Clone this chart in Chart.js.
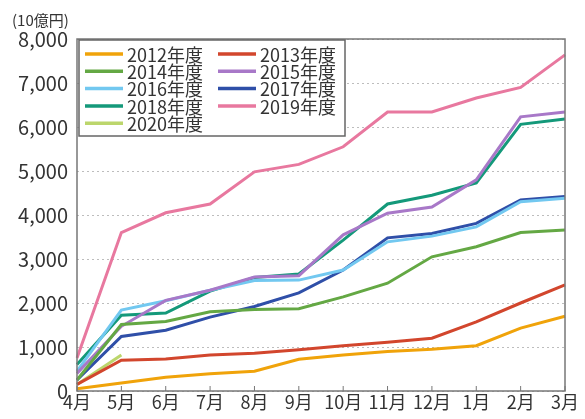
<!DOCTYPE html>
<html>
<head>
<meta charset="utf-8">
<script src="https://cdn.jsdelivr.net/npm/chart.js@4"></script>
<style>
  html, body { margin: 0; padding: 0; background: #fff; }
  #wrap { width: 585px; height: 419px; position: relative; }
</style>
</head>
<body>
<div id="wrap"><canvas id="chart"></canvas></div>
<script>
const months = ['4月', '5月', '6月', '7月', '8月', '9月', '10月', '11月', '12月', '1月', '2月', '3月'];
const yTicks = [0, 1000, 2000, 3000, 4000, 5000, 6000, 7000, 8000];
const unitLabel = '(10億円)';

const fy2012 = [50, 180, 310, 390, 450, 720, 820, 900, 950, 1030, 1430, 1700];
const fy2013 = [150, 700, 730, 820, 860, 940, 1030, 1110, 1200, 1570, 2000, 2410];
const fy2014 = [250, 1510, 1580, 1800, 1850, 1870, 2140, 2450, 3050, 3280, 3600, 3660];
const fy2015 = [400, 1470, 2060, 2290, 2590, 2620, 3550, 4040, 4180, 4800, 6230, 6340];
const fy2016 = [450, 1840, 2050, 2290, 2510, 2520, 2750, 3390, 3520, 3730, 4300, 4380];
const fy2017 = [250, 1240, 1380, 1680, 1920, 2230, 2750, 3480, 3580, 3810, 4340, 4420];
const fy2018 = [600, 1720, 1770, 2270, 2580, 2660, 3430, 4250, 4450, 4730, 6060, 6180];
const fy2019 = [750, 3600, 4050, 4250, 4980, 5150, 5550, 6340, 6340, 6660, 6900, 7640];
const fy2020 = [150, 820, null, null, null, null, null, null, null, null, null, null];

const seriesNames = ['2012年度', '2013年度', '2014年度', '2015年度', '2016年度', '2017年度', '2018年度', '2019年度', '2020年度'];
const seriesData = [fy2012, fy2013, fy2014, fy2015, fy2016, fy2017, fy2018, fy2019, fy2020];
const seriesColors = ['#f0a30a', '#d2462d', '#64a844', '#a878c8', '#72c8f0', '#2f4fa8', '#14997a', '#e8789f', '#bcd66c'];

const FONT = '"Noto Sans CJK JP", "Noto Sans", sans-serif';

// 凡例・枠・目盛り・点線グリッドを自前で描く
const framePlugin = {
    id: 'frame',
    beforeDatasetsDraw(chart) {
        const { ctx, chartArea: a, scales } = chart;
        ctx.save();
        ctx.strokeStyle = '#bdbdbd';
        ctx.lineWidth = 1.2;
        ctx.setLineDash([2, 3]);
        yTicks.forEach(v => {
            const y = Math.round(scales.y.getPixelForValue(v)) + 0.5;
            ctx.beginPath();
            ctx.moveTo(a.left, y);
            ctx.lineTo(a.right, y);
            ctx.stroke();
        });
        ctx.restore();
    },
    afterDraw(chart) {
        const { ctx, chartArea: a, scales } = chart;
        ctx.save();

        // x軸の内向き目盛り
        ctx.strokeStyle = '#777';
        ctx.lineWidth = 1;
        months.forEach((m, i) => {
            const x = scales.x.getPixelForValue(i);
            ctx.beginPath();
            ctx.moveTo(x, a.bottom);
            ctx.lineTo(x, a.bottom - 5);
            ctx.stroke();
        });

        // 外枠
        ctx.strokeStyle = '#777';
        ctx.lineWidth = 1.5;
        ctx.strokeRect(a.left, a.top, a.right - a.left, a.bottom - a.top);

        // 単位
        ctx.fillStyle = '#333';
        ctx.font = '15px ' + FONT;
        ctx.textBaseline = 'middle';
        ctx.textAlign = 'left';
        ctx.fillText(unitLabel, 12, 20);

        // 凡例
        const lx = a.left + 2, ly = a.top + 1, lw = 266, lh = 96;
        ctx.fillStyle = '#fff';
        ctx.fillRect(lx, ly, lw, lh);
        ctx.strokeStyle = '#666';
        ctx.lineWidth = 1.5;
        ctx.strokeRect(lx, ly, lw, lh);
        ctx.font = '18px ' + FONT;
        seriesNames.forEach((name, i) => {
            const col = i % 2, row = Math.floor(i / 2);
            const x0 = lx + 6 + col * 133;
            const y0 = ly + 14 + row * 17.3;
            ctx.strokeStyle = seriesColors[i];
            ctx.lineWidth = 3.5;
            ctx.beginPath();
            ctx.moveTo(x0, y0);
            ctx.lineTo(x0 + 38, y0);
            ctx.stroke();
            ctx.fillStyle = '#333';
            ctx.fillText(name, x0 + 42, y0 + 1);
        });

        ctx.restore();
    }
};

const ctx = document.getElementById('chart').getContext('2d');
new Chart(ctx, {
    type: 'line',
    data: {
        labels: months,
        datasets: seriesNames.map((name, i) => ({
            label: name,
            data: seriesData[i],
            borderColor: seriesColors[i],
            backgroundColor: seriesColors[i],
            borderWidth: 3,
            pointRadius: 0,
            tension: 0,
            spanGaps: false
        }))
    },
    options: {
        responsive: true,
        maintainAspectRatio: false,
        animation: false,
        layout: { padding: { top: 39, right: 20, left: 0, bottom: 0 } },
        plugins: {
            legend: { display: false },
            tooltip: { enabled: false }
        },
        scales: {
            x: {
                offset: false,
                grid: { display: false, drawTicks: false, tickLength: 0 },
                border: { display: false },
                ticks: { color: '#333', font: { family: FONT, size: 18 }, padding: 0, maxRotation: 0, autoSkip: false },
                afterFit(scale) { scale.height = 28; }
            },
            y: {
                min: 0,
                max: 8000,
                afterBuildTicks(scale) { scale.ticks = yTicks.map(v => ({ value: v })); },
                grid: { display: false, drawTicks: false },
                border: { display: false },
                ticks: {
                    color: '#333',
                    font: { family: FONT, size: 20 },
                    padding: 9,
                    callback: v => v.toLocaleString('en-US')
                },
                afterFit(scale) { scale.width = 77; }
            }
        }
    },
    plugins: [framePlugin]
});
</script>
</body>
</html>
